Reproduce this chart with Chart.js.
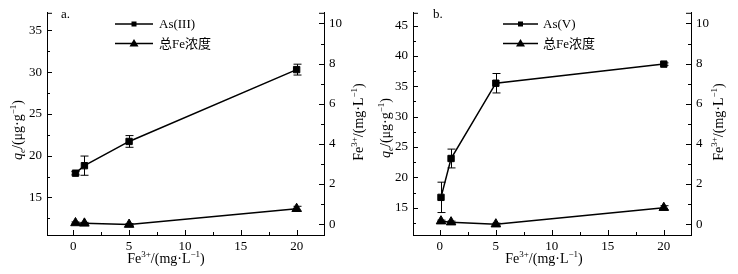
<!DOCTYPE html>
<html>
<head>
<meta charset="utf-8">
<script src="https://cdn.jsdelivr.net/npm/chart.js@4.4.0/dist/chart.umd.min.js"></script>
<style>
body { margin: 0; background: #fff; }
#wrap { position: relative; width: 738px; height: 274px; }
canvas { position: absolute; top: 0; }
</style>
</head>
<body>
<div id="wrap">
  <canvas id="chartA" width="369" height="274" style="left:0"></canvas>
  <canvas id="chartB" width="369" height="274" style="left:369px"></canvas>
</div>
<script>
// panel a: As(III)
var xA = [0.2, 1, 5, 20];
var asIII = [17.9, 18.8, 21.7, 30.3];
var asIIIErr = [0.2, 1.15, 0.7, 0.65];
var feA = [0.06, 0.04, -0.02, 0.77];
var feAErr = [0.05, 0.05, 0.05, 0.12];

// panel b: As(V)
var xB = [0.1, 1, 5, 20];
var asV = [16.7, 23.1, 35.5, 38.65];
var asVErr = [2.5, 1.55, 1.6, 0.2];
var feB = [0.15, 0.1, 0.0, 0.82];
var feBErr = [0.05, 0.05, 0.05, 0.1];

// ticks
var xTicks = [0, 5, 10, 15, 20];
var xMinor = [2.5, 7.5, 12.5, 17.5];
var yTicksA = [15, 20, 25, 30, 35];
var yMinorA = [12.5, 17.5, 22.5, 27.5, 32.5];
var yTicksB = [15, 20, 25, 30, 35, 40, 45];
var yMinorB = [12.5, 17.5, 22.5, 27.5, 32.5, 37.5, 42.5];
var feTicks = [0, 2, 4, 6, 8, 10];
var feMinor = [1, 3, 5, 7, 9];

var SERIF = '"Liberation Serif", "Times New Roman", serif';
var CJK = '"Liberation Serif", "Noto Sans CJK SC", serif';

function pts(xs, ys) {
    return xs.map(function (x, i) { return { x: x, y: ys[i] }; });
}

function fixTicks(list) {
    return function (scale) {
        scale.ticks = list.map(function (v) { return { value: v }; });
    };
}

function drawRich(ctx, runs, cx, cy, rot) {
    var total = 0;
    runs.forEach(function (r) {
        ctx.font = r.font;
        r.w = ctx.measureText(r.t).width;
        total += r.w;
    });
    ctx.save();
    ctx.translate(cx, cy);
    ctx.rotate(rot);
    ctx.fillStyle = '#000';
    ctx.textAlign = 'left';
    ctx.textBaseline = 'alphabetic';
    var x = -total / 2;
    runs.forEach(function (r) {
        ctx.font = r.font;
        ctx.fillText(r.t, x, 5 + (r.dy || 0));
        x += r.w;
    });
    ctx.restore();
}

function feRuns() {
    return [
        { t: 'Fe', font: '14px ' + SERIF },
        { t: '3+', font: '9px ' + SERIF, dy: -6 },
        { t: '/(mg·L', font: '14px ' + SERIF },
        { t: '−1', font: '9px ' + SERIF, dy: -6 },
        { t: ')', font: '14px ' + SERIF }
    ];
}

function qRuns() {
    return [
        { t: 'q', font: 'italic 14px ' + SERIF },
        { t: 'e', font: 'italic 9px ' + SERIF, dy: 3 },
        { t: '/(μg·g', font: '14px ' + SERIF },
        { t: '−1', font: '9px ' + SERIF, dy: -6 },
        { t: ')', font: '14px ' + SERIF }
    ];
}

// inward ticks, minor ticks, error bars, legend and titles
var decor = {
    id: 'decor',
    afterDatasetsDraw: function (chart) {
        var ctx = chart.ctx;
        ctx.save();
        ctx.strokeStyle = '#000';
        ctx.lineWidth = 1;
        chart.data.datasets.forEach(function (ds) {
            var xs = chart.scales.x, ys = chart.scales[ds.yAxisID];
            ds.data.forEach(function (p, i) {
                var e = ds.errors[i];
                var px = Math.round(xs.getPixelForValue(p.x)) + 0.5;
                var t = ys.getPixelForValue(p.y + e), b = ys.getPixelForValue(p.y - e);
                ctx.beginPath();
                ctx.moveTo(px, t); ctx.lineTo(px, b);
                ctx.moveTo(px - 4, t); ctx.lineTo(px + 4, t);
                ctx.moveTo(px - 4, b); ctx.lineTo(px + 4, b);
                ctx.stroke();
            });
        });
        ctx.restore();
    },
    afterDraw: function (chart, args, o) {
        var ctx = chart.ctx, a = chart.chartArea;
        var sx = chart.scales.x, sy = chart.scales.y, sy1 = chart.scales.y1;
        ctx.save();
        ctx.strokeStyle = '#000';
        ctx.lineWidth = 1;
        ctx.beginPath();
        function xt(v, len) {
            var p = Math.round(sx.getPixelForValue(v)) + 0.5;
            ctx.moveTo(p, a.bottom); ctx.lineTo(p, a.bottom - len);
        }
        function yt(scale, v, len, right) {
            var p = Math.round(scale.getPixelForValue(v)) + 0.5;
            var edge = right ? a.right : a.left;
            ctx.moveTo(edge, p); ctx.lineTo(edge + (right ? -len : len), p);
        }
        sx.ticks.forEach(function (t) { xt(t.value, 5); });
        o.xMinor.forEach(function (v) { xt(v, 3); });
        sy.ticks.forEach(function (t) { yt(sy, t.value, 5, false); });
        o.yMinor.forEach(function (v) { yt(sy, v, 3, false); });
        sy1.ticks.forEach(function (t) { yt(sy1, t.value, 5, true); });
        o.y1Minor.forEach(function (v) { yt(sy1, v, 3, true); });
        // stubs at the top of both vertical axes
        ctx.moveTo(a.left, a.top + 0.5); ctx.lineTo(a.left + 5, a.top + 0.5);
        ctx.moveTo(a.right, a.top + 0.5); ctx.lineTo(a.right - 5, a.top + 0.5);
        ctx.stroke();

        // legend
        var lg = o.legend;
        ctx.lineWidth = 1.5;
        [0, 1].forEach(function (i) {
            var y = lg.y + i * 19.5;
            ctx.beginPath();
            ctx.moveTo(lg.x0, y); ctx.lineTo(lg.x1, y);
            ctx.stroke();
            ctx.fillStyle = '#000';
            var mx = (lg.x0 + lg.x1) / 2;
            if (i === 0) {
                ctx.fillRect(mx - 2.5, y - 2.5, 5, 5);
            } else {
                ctx.beginPath();
                ctx.moveTo(mx, y - 4.5); ctx.lineTo(mx + 4.5, y + 3); ctx.lineTo(mx - 4.5, y + 3);
                ctx.closePath(); ctx.fill();
            }
            ctx.font = '13px ' + CJK;
            ctx.textBaseline = 'middle';
            ctx.textAlign = 'left';
            ctx.fillText(chart.data.datasets[i].label, lg.tx, y + 1);
        });

        // panel letter
        ctx.font = '13px ' + SERIF;
        ctx.textBaseline = 'alphabetic';
        ctx.fillText(o.letter, o.letterX, 18);
        ctx.restore();

        drawRich(ctx, feRuns(), o.xTitle[0], o.xTitle[1], 0);
        drawRich(ctx, qRuns(), o.yTitle[0], o.yTitle[1], -Math.PI / 2);
        drawRich(ctx, feRuns(), o.y1Title[0], o.y1Title[1], -Math.PI / 2);
    }
};

function makeChart(id, p) {
    var axisGrid = { display: false, drawTicks: false, tickLength: 0 };
    var axisBorder = { display: true, color: '#000', width: 1 };
    return new Chart(document.getElementById(id).getContext('2d'), {
        type: 'line',
        data: {
            datasets: [{
                label: p.asLabel,
                data: pts(p.x, p.as),
                errors: p.asErr,
                yAxisID: 'y',
                borderColor: '#000',
                backgroundColor: '#000',
                borderWidth: 1.5,
                pointStyle: 'rect',
                pointRadius: 4.5,
                pointBorderWidth: 1,
                tension: 0
            }, {
                label: '总Fe浓度',
                data: pts(p.x, p.fe),
                errors: p.feErr,
                yAxisID: 'y1',
                borderColor: '#000',
                backgroundColor: '#000',
                borderWidth: 1.5,
                pointStyle: 'triangle',
                pointRadius: 5.5,
                pointBorderWidth: 1,
                tension: 0
            }]
        },
        options: {
            responsive: false,
            animation: false,
            devicePixelRatio: 1,
            layout: { padding: { top: 10, left: 0, right: 0, bottom: 0 } },
            plugins: {
                legend: { display: false },
                tooltip: { enabled: false },
                decor: p.decor
            },
            scales: {
                x: {
                    type: 'linear',
                    min: p.xMin, max: p.xMax,
                    afterBuildTicks: fixTicks(xTicks),
                    afterFit: function (s) { s.height = 39; },
                    grid: axisGrid,
                    border: axisBorder,
                    ticks: { color: '#000', padding: 4, maxRotation: 0, font: { family: SERIF, size: 13 } }
                },
                y: {
                    position: 'left',
                    min: p.yMin, max: p.yMax,
                    afterBuildTicks: fixTicks(p.yTicks),
                    afterFit: function (s) { s.width = p.leftW; },
                    grid: axisGrid,
                    border: axisBorder,
                    ticks: { color: '#000', padding: 5, font: { family: SERIF, size: 13 } }
                },
                y1: {
                    position: 'right',
                    min: -0.54, max: 10.53,
                    afterBuildTicks: fixTicks(feTicks),
                    afterFit: function (s) { s.width = p.rightW; },
                    grid: axisGrid,
                    border: axisBorder,
                    ticks: { color: '#000', padding: 5, font: { family: SERIF, size: 13 } }
                }
            }
        },
        plugins: [decor]
    });
}

makeChart('chartA', {
    asLabel: 'As(III)', x: xA, as: asIII, asErr: asIIIErr, fe: feA, feErr: feAErr,
    xMin: -2.35, xMax: 22.45, yMin: 10.5, yMax: 37.1, yTicks: yTicksA,
    leftW: 47, rightW: 45,
    decor: {
        xMinor: xMinor, yMinor: yMinorA, y1Minor: feMinor,
        legend: { x0: 115, x1: 153, y: 24, tx: 159 },
        letter: 'a.', letterX: 61,
        xTitle: [166, 258], yTitle: [17, 130], y1Title: [358, 122]
    }
});

makeChart('chartB', {
    asLabel: 'As(V)', x: xB, as: asV, asErr: asVErr, fe: feB, feErr: feBErr,
    xMin: -2.4, xMax: 22.43, yMin: 10.5, yMax: 47.1, yTicks: yTicksB,
    leftW: 44, rightW: 47,
    decor: {
        xMinor: xMinor, yMinor: yMinorB, y1Minor: feMinor,
        legend: { x0: 134, x1: 169, y: 24, tx: 174 },
        letter: 'b.', letterX: 64,
        xTitle: [175, 258], yTitle: [16, 128], y1Title: [349, 122]
    }
});
</script>
</body>
</html>
